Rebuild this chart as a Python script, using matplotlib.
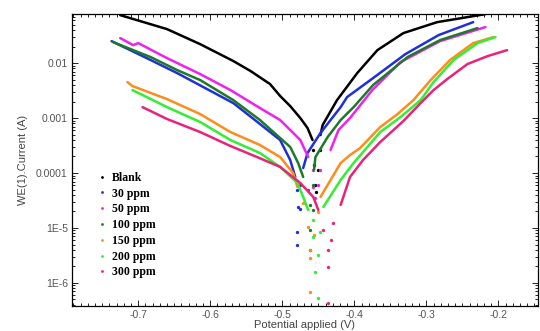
import numpy as np
import matplotlib
matplotlib.use("Agg")
import matplotlib.pyplot as plt
from matplotlib.lines import Line2D
from matplotlib.ticker import FixedLocator, FixedFormatter, MultipleLocator, LogLocator, NullFormatter

# Potentiodynamic polarisation data: potential (V), current (A)
blank_E = [-0.725, -0.660, -0.614, -0.568, -0.544, -0.517, -0.503, -0.489, -0.475, -0.465, -0.458,
           -0.457, -0.456, -0.454, -0.453, -0.450, -0.448, -0.447,
           -0.444, -0.424, -0.396, -0.368, -0.332, -0.285, -0.218]
blank_I = [7.46e-2, 4.15e-2, 2.21e-2, 1.09e-2, 7.16e-3, 4.15e-3, 2.52e-3, 1.65e-3, 1.0e-3, 6.6e-4, 3.98e-4,
           2.62e-4, 1.4e-4, 6.0e-5, 4.5e-5, 1.13e-4, 2.62e-4, 4.9e-4,
           7.46e-4, 2.12e-3, 6.58e-3, 1.72e-2, 3.51e-2, 5.56e-2, 7.78e-2]

ppm30_E = [-0.737, -0.683, -0.646, -0.568, -0.538, -0.503, -0.489, -0.482,
           -0.479, -0.478, -0.479, -0.479, -0.476, -0.475, -0.471,
           -0.465, -0.447, -0.433, -0.419, -0.410, -0.374, -0.329, -0.283, -0.235]
ppm30_I = [2.51e-2, 1.14e-2, 6.58e-3, 1.87e-3, 9.2e-4, 3.98e-4, 1.72e-4, 8.46e-5,
           4.91e-5, 2.41e-5, 8.46e-6, 4.91e-6, 2.2e-5, 6.05e-5, 1.23e-4,
           2.31e-4, 5.34e-4, 9.2e-4, 1.58e-3, 2.41e-3, 5.33e-3, 1.46e-2, 3.23e-2, 5.56e-2]

ppm50_E = [-0.725, -0.707, -0.700, -0.660, -0.614, -0.572, -0.531, -0.503, -0.475, -0.464,
           -0.458, -0.457, -0.454, -0.450, -0.447,
           -0.433, -0.422, -0.406, -0.375, -0.336, -0.281, -0.218]
ppm50_I = [2.85e-2, 2.12e-2, 2.31e-2, 1.23e-2, 6.31e-3, 3.23e-3, 1.52e-3, 9.2e-4, 3.98e-4, 1.95e-4,
           1.13e-4, 5.56e-5, 3.5e-5, 6.05e-5, 1.13e-4,
           2.62e-4, 6.05e-4, 1.0e-3, 3.23e-3, 1.04e-2, 2.51e-2, 4.52e-2]

ppm100_E = [-0.735, -0.683, -0.646, -0.614, -0.568, -0.531, -0.489, -0.478, -0.471,
            -0.464, -0.461, -0.462, -0.462, -0.458, -0.457, -0.456,
            -0.454, -0.437, -0.419, -0.401, -0.374, -0.326, -0.281, -0.229]
ppm100_I = [2.41e-2, 1.29e-2, 7.46e-3, 4.91e-3, 2.12e-3, 9.2e-4, 2.97e-4, 1.52e-4, 8.46e-5,
            4.91e-5, 2.62e-5, 9.2e-6, 3.98e-6, 2.12e-5, 6.05e-5, 1.13e-4,
            1.95e-4, 4.52e-4, 9.2e-4, 1.58e-3, 3.98e-3, 1.29e-2, 2.62e-2, 4.33e-2]

ppm150_E = [-0.715, -0.708, -0.660, -0.614, -0.572, -0.531, -0.503, -0.485, -0.479,
            -0.471, -0.465, -0.462, -0.462, -0.461, -0.456, -0.451,
            -0.447, -0.433, -0.419, -0.406, -0.392, -0.364, -0.340, -0.318, -0.294, -0.267, -0.235, -0.207]
ppm150_I = [4.52e-3, 3.82e-3, 2.21e-3, 1.18e-3, 5.56e-4, 3.23e-4, 1.95e-4, 1.0e-4, 5.56e-5,
            2.85e-5, 1.04e-5, 3.98e-6, 2.85e-6, 6.86e-7, 7.46e-6, 1.95e-5,
            3.66e-5, 7.46e-5, 1.52e-4, 2.12e-4, 2.85e-4, 6.86e-4, 1.18e-3, 2.12e-3, 4.91e-3, 1.14e-2, 2.31e-2, 2.97e-2]

ppm200_E = [-0.708, -0.660, -0.614, -0.572, -0.531, -0.503, -0.479, -0.471, -0.464,
            -0.458, -0.457, -0.454, -0.451, -0.450, -0.447,
            -0.443, -0.419, -0.401, -0.364, -0.336, -0.308, -0.290, -0.262, -0.229, -0.204]
ppm200_I = [3.23e-3, 1.58e-3, 8.46e-4, 3.98e-4, 2.31e-4, 1.29e-4, 6.58e-5, 3.66e-5, 2.12e-5,
            1.4e-5, 6.86e-6, 1.58e-6, 5.34e-7, 3.23e-6, 8.46e-6,
            2.41e-5, 7.46e-5, 1.52e-4, 5.56e-4, 1.04e-3, 2.12e-3, 4.52e-3, 1.14e-2, 2.31e-2, 2.97e-2]

ppm300_E = [-0.694, -0.660, -0.614, -0.572, -0.535, -0.503, -0.475, -0.457, -0.450,
            -0.444, -0.437, -0.436, -0.437, -0.433, -0.429,
            -0.419, -0.406, -0.388, -0.364, -0.332, -0.308, -0.290, -0.271, -0.243, -0.215, -0.188]
ppm300_I = [1.58e-3, 9.6e-4, 5.56e-4, 3.1e-4, 1.95e-4, 1.29e-4, 6.58e-5, 3.66e-5, 2.12e-5,
            9.2e-6, 3.98e-6, 1.95e-6, 4.33e-7, 6.05e-6, 1.23e-5,
            2.62e-5, 8.46e-5, 1.72e-4, 3.66e-4, 8.8e-4, 1.87e-3, 3.23e-3, 5.12e-3, 9.6e-3, 1.34e-2, 1.72e-2]

labels = ["Blank", "30 ppm", "50 ppm", "100 ppm", "150 ppm", "200 ppm", "300 ppm"]
colors = ["#000000", "#2030d8", "#ee22ee", "#1e7a2a", "#ff8c1a", "#33ee33", "#e8237a"]
# below this current the record is sparse: only dots, no joined line
solid_above = [3.5e-4, 8e-5, 1.5e-4, 8e-5, 3.5e-5, 2e-5, 2e-5]

x_ticks = [-0.7, -0.6, -0.5, -0.4, -0.3, -0.2]
x_tick_labels = ["-0.7", "-0.6", "-0.5", "-0.4", "-0.3", "-0.2"]
y_ticks = [1e-6, 1e-5, 1e-4, 1e-3, 1e-2]
y_tick_labels = ["1E-6", "1E-5", "0.0001", "0.001", "0.01"]


def draw_curve(ax, E, I, floor, color):
    """Joined line on the dense branches, plain dots near the corrosion potential."""
    E = np.asarray(E)
    I = np.asarray(I)
    ax.plot(E, np.ma.masked_where(I < floor, I), '-', color=color, lw=1.8,
            solid_capstyle='round', solid_joinstyle='round')
    sparse = I < floor
    ax.plot(E[sparse], I[sparse], 'o', color=color, ms=2.4, mew=0)


def main():
    fig = plt.figure(figsize=(5.4, 3.31), dpi=100)
    ax = fig.add_axes([0.1333, 0.0755, 0.863, 0.882])
    ax.set_yscale('log')

    series = [(blank_E, blank_I), (ppm30_E, ppm30_I), (ppm50_E, ppm50_I), (ppm100_E, ppm100_I),
              (ppm150_E, ppm150_I), (ppm200_E, ppm200_I), (ppm300_E, ppm300_I)]
    for (E, I), floor, c in zip(series, solid_above, colors):
        draw_curve(ax, E, I, floor, c)

    ax.set_xlim(-0.792, -0.145)
    ax.set_ylim(3.8e-7, 7.8e-2)

    # ticks: inward on all four sides, gray labels
    ax.xaxis.set_major_locator(FixedLocator(x_ticks))
    ax.xaxis.set_major_formatter(FixedFormatter(x_tick_labels))
    ax.xaxis.set_minor_locator(MultipleLocator(0.01))
    ax.yaxis.set_major_locator(FixedLocator(y_ticks))
    ax.yaxis.set_major_formatter(FixedFormatter(y_tick_labels))
    ax.yaxis.set_minor_locator(LogLocator(base=10, subs=np.arange(2, 10)))
    ax.yaxis.set_minor_formatter(NullFormatter())
    ax.tick_params(which='both', direction='in', top=True, right=True, width=0.7,
                   labelsize=7.5, colors='#222222')
    ax.tick_params(which='major', length=4, pad=3)
    ax.tick_params(which='minor', length=2)
    for lab in ax.get_xticklabels() + ax.get_yticklabels():
        lab.set_fontfamily('Liberation Sans')
        lab.set_color('#555555')
    for s in ax.spines.values():
        s.set_linewidth(0.9)

    ax.set_xlabel("Potential applied (V)", fontsize=8, family='Liberation Sans',
                  color='#444444', labelpad=0)
    ax.set_ylabel("WE(1).Current (A)", fontsize=8, family='Liberation Sans',
                  color='#444444', labelpad=6)

    # legend: tiny coloured dots, bold serif text
    handles = [Line2D([], [], ls='none', marker='o', ms=2, mew=0, color=c) for c in colors]
    ax.legend(handles, labels, loc='upper left', bbox_to_anchor=(0.045, 0.48), frameon=False,
              borderpad=0, handlelength=0.6, handletextpad=0.5, labelspacing=0.32,
              prop={'family': 'Liberation Serif', 'weight': 'bold', 'size': 8.5})

    fig.savefig('out.png', dpi=100)


if __name__ == "__main__":
    main()
